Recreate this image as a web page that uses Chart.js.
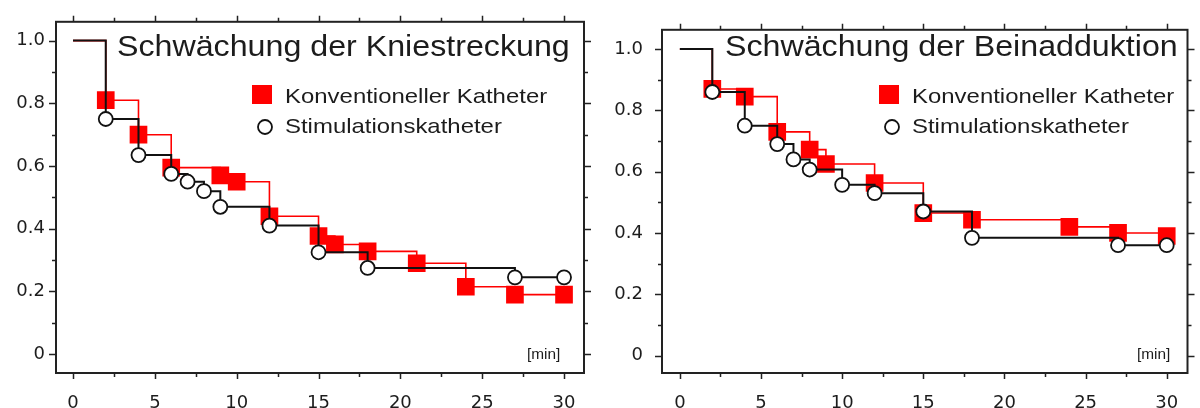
<!DOCTYPE html>
<html>
<head>
<meta charset="utf-8">
<script src="https://cdn.jsdelivr.net/npm/chart.js@4"></script>
<style>
    html, body { margin: 0; padding: 0; background: #fff; }
    #wrap { display: flex; width: 1200px; height: 408px; }
    .box { width: 600px; height: 408px; }
</style>
</head>
<body>
<div id="wrap">
    <div class="box"><canvas id="knie" width="600" height="408"></canvas></div>
    <div class="box"><canvas id="bein" width="600" height="408"></canvas></div>
</div>
<script>
// Achsen
const xTicks = [0, 2.5, 5, 7.5, 10, 12.5, 15, 17.5, 20, 22.5, 25, 27.5, 30];
const yTicks = [0, 0.1, 0.2, 0.3, 0.4, 0.5, 0.6, 0.7, 0.8, 0.9, 1.0];

// Kniestreckung
const knieZeitKonv = [0, 2, 4, 6, 9, 10, 12, 15, 16, 18, 21, 24, 27, 30];
const knieKonv     = [1.0, 0.81, 0.70, 0.595, 0.57, 0.55, 0.44, 0.377, 0.35, 0.328, 0.29, 0.215, 0.19, 0.19];
const knieZeitStim = [0, 2, 4, 6, 7, 8, 9, 12, 15, 18, 27, 30];
const knieStim     = [1.0, 0.75, 0.635, 0.575, 0.55, 0.52, 0.47, 0.41, 0.325, 0.275, 0.245, 0.245];

// Beinadduktion
const beinZeitKonv = [0, 2, 4, 6, 8, 9, 12, 15, 18, 24, 27, 30];
const beinKonv     = [1.0, 0.87, 0.845, 0.73, 0.672, 0.625, 0.563, 0.465, 0.443, 0.42, 0.40, 0.39];
const beinZeitStim = [0, 2, 4, 6, 7, 8, 10, 12, 15, 18, 27, 30];
const beinStim     = [1.0, 0.86, 0.75, 0.69, 0.64, 0.607, 0.557, 0.53, 0.47, 0.384, 0.36, 0.36];

const ROT = "#ff0000";
const SCHWARZ = "#111";
const TEXT = "#1c1c1c";
const FONT = '"Liberation Sans", Arial, sans-serif';

function punkte(zeit, werte) {
    return zeit.map((t, i) => ({ x: t, y: werte[i] }));
}

function schrift(ctx, text, x, y, size, sx) {
    ctx.save();
    ctx.font = size + "px " + FONT;
    ctx.fillStyle = TEXT;
    ctx.textBaseline = "alphabetic";
    ctx.translate(x, y);
    ctx.scale(sx, 1);
    ctx.fillText(text, 0, 0);
    ctx.restore();
}

// Rahmen, Tickstriche, Titel, Legende
const rahmen = {
    id: "rahmen",
    afterDraw(chart, args, o) {
        const { ctx, chartArea: a, scales: { x, y } } = chart;
        ctx.save();
        ctx.strokeStyle = "#222";
        ctx.lineWidth = 2;
        ctx.strokeRect(a.left, a.top, a.right - a.left, a.bottom - a.top);

        ctx.lineWidth = 1.5;
        ctx.beginPath();
        xTicks.forEach(v => {
            const px = Math.round(x.getPixelForValue(v)) + 0.5;
            const len = v % 5 === 0 ? 6 : 4;
            ctx.moveTo(px, a.bottom); ctx.lineTo(px, a.bottom + len);
            ctx.moveTo(px, a.top); ctx.lineTo(px, a.top - len);
        });
        yTicks.forEach(v => {
            const py = Math.round(y.getPixelForValue(v)) + 0.5;
            const len = Math.round(v * 10) % 2 === 0 ? 7 : 4;
            ctx.moveTo(a.left, py); ctx.lineTo(a.left - len, py);
            ctx.moveTo(a.right, py); ctx.lineTo(a.right + len, py);
        });
        ctx.stroke();

        // Titel
        schrift(ctx, o.titel, o.titelX, 56, 29, 1.11);

        // Legende
        const lx = o.legX;
        ctx.fillStyle = ROT;
        ctx.fillRect(lx - 10, 85, 20, 19);
        ctx.beginPath();
        ctx.arc(lx + 3, 127, 7, 0, Math.PI * 2);
        ctx.fillStyle = "#fff";
        ctx.fill();
        ctx.lineWidth = 1.8;
        ctx.strokeStyle = SCHWARZ;
        ctx.stroke();
        schrift(ctx, "Konventioneller Katheter", lx + 23, 103, 21, 1.14);
        schrift(ctx, "Stimulationskatheter", lx + 23, 133, 21, 1.14);

        // Einheit
        schrift(ctx, "[min]", o.minX, 359, 14, 1.1);
        ctx.restore();
    }
};

function zeichne(id, cfg) {
    new Chart(document.getElementById(id), {
        type: "line",
        data: {
            datasets: [{
                label: "Konventioneller Katheter",
                data: punkte(cfg.zeitKonv, cfg.konv),
                stepped: true,
                borderColor: ROT,
                borderWidth: 1.6,
                pointStyle: "rect",
                pointRadius: c => c.dataIndex === 0 ? 0 : 12.5,
                pointBackgroundColor: ROT,
                pointBorderWidth: 0,
                order: 2
            }, {
                label: "Stimulationskatheter",
                data: punkte(cfg.zeitStim, cfg.stim),
                stepped: true,
                borderColor: SCHWARZ,
                borderWidth: 2,
                pointStyle: "circle",
                pointRadius: c => c.dataIndex === 0 ? 0 : 7,
                pointBackgroundColor: "#fff",
                pointBorderColor: SCHWARZ,
                pointBorderWidth: 1.8,
                order: 1
            }]
        },
        options: {
            responsive: false,
            animation: false,
            layout: { padding: { top: 17, right: cfg.rechts, left: 0, bottom: 0 } },
            plugins: {
                legend: { display: false },
                tooltip: { enabled: false },
                rahmen: { titel: cfg.titel, titelX: cfg.titelX, legX: cfg.legX, minX: cfg.minX }
            },
            scales: {
                x: {
                    type: "linear",
                    min: cfg.xmin,
                    max: cfg.xmax,
                    afterBuildTicks: s => { s.ticks = xTicks.map(v => ({ value: v })); },
                    afterFit: s => { s.height = 35; },
                    grid: { display: false, drawTicks: false },
                    border: { display: false },
                    ticks: {
                        autoSkip: false,
                        maxRotation: 0,
                        padding: 20,
                        color: TEXT,
                        font: { family: '"DejaVu Sans", sans-serif', size: 18 },
                        callback: v => v % 5 === 0 ? String(v) : ""
                    }
                },
                y: {
                    min: cfg.ymin,
                    max: cfg.ymax,
                    afterBuildTicks: s => { s.ticks = yTicks.map(v => ({ value: v })); },
                    afterFit: s => { s.width = cfg.yBreite; },
                    grid: { display: false, drawTicks: false },
                    border: { display: false },
                    ticks: {
                        autoSkip: false,
                        padding: cfg.yPad,
                        color: TEXT,
                        font: { family: '"DejaVu Sans", sans-serif', size: 18 },
                        callback: v => {
                            const z = Math.round(v * 10);
                            if (z % 2 !== 0) return "";
                            return z === 0 ? "0" : (z / 10).toFixed(1);
                        }
                    }
                }
            }
        },
        plugins: [rahmen]
    });
}

zeichne("knie", {
    titel: "Schwächung der Kniestreckung", titelX: 117, legX: 262, minX: 527,
    zeitKonv: knieZeitKonv, konv: knieKonv, zeitStim: knieZeitStim, stim: knieStim,
    xmin: -1.04, xmax: 31.22, ymin: -0.06, ymax: 1.06,
    yBreite: 56, yPad: 11, rechts: 16
});

zeichne("bein", {
    titel: "Schwächung der Beinadduktion", titelX: 125, legX: 289, minX: 537,
    zeitKonv: beinZeitKonv, konv: beinKonv, zeitStim: beinZeitStim, stim: beinStim,
    xmin: -1.1, xmax: 31.28, ymin: -0.057, ymax: 1.063,
    yBreite: 62, yPad: 19, rechts: 7
});
</script>
</body>
</html>
